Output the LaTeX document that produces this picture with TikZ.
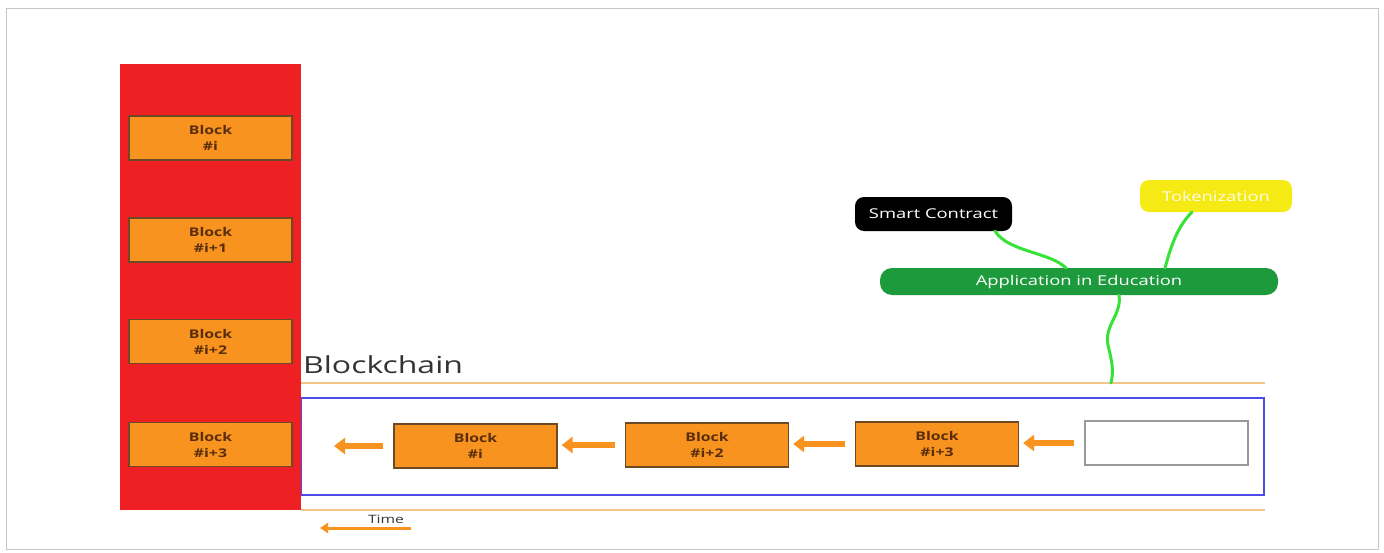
\documentclass[tikz,border=0pt]{standalone}
\usepackage{fontspec}
\setmainfont{Open Sans}
\newfontfamily\widesans[FakeStretch=1.32]{Open Sans}
\newfontfamily\widersans[FakeStretch=1.36]{Open Sans}
\usetikzlibrary{arrows.meta,calc}
\definecolor{panelred}{HTML}{EE2024}
\definecolor{blockorange}{HTML}{F7931E}
\definecolor{blockedge}{HTML}{6E4A24}
\definecolor{blocktext}{HTML}{5A2E0C}
\definecolor{railtan}{HTML}{EEC58A}
\definecolor{chainblue}{HTML}{4B4BEA}
\definecolor{appgreen}{HTML}{1C9A3C}
\definecolor{linkgreen}{HTML}{36E236}
\definecolor{tokyellow}{HTML}{F5EA14}
\tikzset{
  blockbox/.style={draw=blockedge, line width=1.3pt, fill=blockorange,
    minimum width=163pt, minimum height=44pt, inner sep=0pt, align=center,
    font=\widesans\fontsize{12}{16}\selectfont\bfseries, text=blocktext},
  emptybox/.style={draw=gray!80, line width=1.6pt, fill=white,
    minimum width=163pt, minimum height=44pt, inner sep=0pt},
  chainarrow/.style={draw=blockorange, line width=6.5pt,
    -{Triangle[width=16pt,length=11pt]}, shorten <=10pt, shorten >=4pt},
  pill/.style={rounded corners=9pt, inner sep=0pt, text=white,
    font=\widersans\fontsize{13.5}{15}\selectfont},
  link/.style={draw=linkgreen, line width=3pt, line cap=round},
  rail/.style={draw=railtan, line width=2pt},
}
\begin{document}
\begin{tikzpicture}[x=1pt,y=-1pt]
  \useasboundingbox (0,0) rectangle (1384,552);
  % outer frame
  \draw[gray!45, line width=1pt] (6,8) rectangle (1378,549);

  % blockchain band
  \draw[rail] (301,383) -- (1265,383);
  \draw[rail] (301,510) -- (1265,510);
  \draw[chainblue, line width=2pt] (301,398) rectangle (1264,495);
  \node[anchor=base west, text=black!80, font=\widersans\fontsize{23.5}{26}\selectfont, inner sep=0pt]
    (title) at (303,373) {Blockchain};

  % red column with its blocks
  \fill[panelred] (120,64) rectangle (301,510);
  \node[blockbox] (L1) at (210.5,138) {Block\\\#i};
  \node[blockbox] (L2) at (210.5,240) {Block\\\#i+1};
  \node[blockbox] (L3) at (210.5,341.5) {Block\\\#i+2};
  \node[blockbox] (L4) at (210.5,444.5) {Block\\\#i+3};

  % chain of blocks
  \node[blockbox] (C1) at (475.5,446) {Block\\\#i};
  \node[blockbox] (C2) at (707,445) {Block\\\#i+2};
  \node[blockbox] (C3) at (937,444) {Block\\\#i+3};
  \node[emptybox] (C4) at (1166.5,443) {};
  \coordinate (cend) at (C1.west -| 330,0);
  \draw[chainarrow] (C1.west) -- (cend);
  \draw[chainarrow] (C2.west) -- (C2.west -| C1.east);
  \draw[chainarrow] (C3.west) -- (C3.west -| C2.east);
  \draw[chainarrow] (C4.west) -- (C4.west -| C3.east);

  % time axis
  \node[font=\widersans\fontsize{11.5}{12}\selectfont, text=black!80, inner sep=0pt] (time) at (386,519) {Time};
  \coordinate (tstart) at (411,528);
  \coordinate (tend) at (320,528);
  \draw[blockorange, line width=3pt, -{Triangle[width=10pt,length=8pt]}] (tstart) -- (tend);

  % application tree
  \node[pill, fill=black, minimum width=157pt, minimum height=34pt] (sc) at (933.5,214) {Smart Contract};
  \node[pill, fill=tokyellow, text=white!90!tokyellow, minimum width=152pt, minimum height=32pt] (tok) at (1216,196) {Tokenization};
  \node[pill, fill=appgreen, rounded corners=12pt, minimum width=398pt, minimum height=27pt] (app) at (1079,281.5) {Application in Education};

  \coordinate (scfoot) at (995,231);
  \coordinate (tokfoot) at (1192,212);
  \coordinate (apptopl) at (1066,268);
  \coordinate (apptopr) at (1165,268);
  \coordinate (appfoot) at (1119,295);
  \coordinate (chaintop) at (1111,383);
  \draw[link] (scfoot) .. controls (1008,252) and (1050,252) .. (apptopl);
  \draw[link] (tokfoot) .. controls (1176,228) and (1170,250) .. (apptopr);
  \draw[link] (appfoot) .. controls (1122,315) and (1104,325) .. (1108,345)
                        .. controls (1112,362) and (1114,370) .. (chaintop);
\end{tikzpicture}
\end{document}
